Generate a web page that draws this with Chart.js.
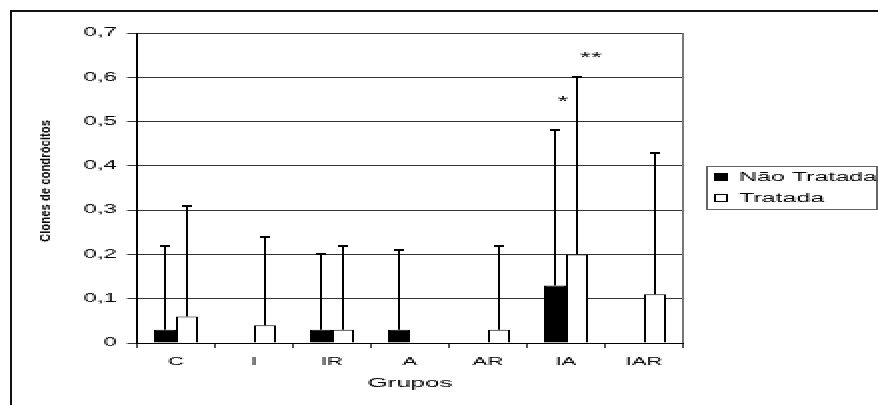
<!DOCTYPE html>
<html>
<head>
<meta charset="utf-8">
<title>Clones de condrócitos</title>
<script src="https://cdn.jsdelivr.net/npm/chart.js@4"></script>
<style>
  html, body { margin: 0; padding: 0; background: #fff; }
  /* the reference is drawn stretched sideways, so the canvas is half as wide and scaled up */
  #chart { display: block; width: 878px !important; height: 405px !important; image-rendering: pixelated; }
</style>
</head>
<body>
<canvas id="chart" width="439" height="405"></canvas>
<script>
const grupos = ['C', 'I', 'IR', 'A', 'AR', 'IA', 'IAR'];
const naoTratada = [0.03, 0, 0.03, 0.03, 0, 0.13, 0];
const tratada = [0.06, 0.04, 0.03, 0, 0.03, 0.20, 0.11];
// top of each error bar (null = none drawn)
const naoTratadaTopo = [0.22, null, 0.20, 0.21, null, 0.48, null];
const tratadaTopo = [0.31, 0.24, 0.22, null, 0.22, 0.60, 0.43];
// significance marks
const naoTratadaSig = ['', '', '', '', '', '*', ''];
const tratadaSig = ['', '', '', '', '', '**', ''];
const yTicks = [0, 0.1, 0.2, 0.3, 0.4, 0.5, 0.6, 0.7];
const yLabel = 'Clones de condrócitos';
const xLabel = 'Grupos';

Chart.defaults.font.family = "'Liberation Sans', Arial, sans-serif";
Chart.defaults.color = '#000';

const topos = [naoTratadaTopo, tratadaTopo];
const sigs = [naoTratadaSig, tratadaSig];

const extras = {
  id: 'extras',
  beforeDraw(chart) {
    const ctx = chart.ctx;
    ctx.save();
    ctx.fillStyle = '#fff';
    ctx.fillRect(0, 0, chart.width, chart.height);
    // outer frame
    ctx.fillStyle = '#111';
    ctx.fillRect(5, 10, chart.width - 5, 2);
    ctx.fillRect(5, 10, 1, chart.height - 10);
    ctx.restore();
  },
  afterDatasetsDraw(chart) {
    const ctx = chart.ctx;
    const y = chart.scales.y;
    const area = chart.chartArea;
    ctx.save();
    // right border of plot
    ctx.fillStyle = '#777';
    ctx.fillRect(Math.floor(area.right), area.top, 1, area.bottom - area.top);

    // error bars, upper half only
    ctx.fillStyle = '#000';
    topos.forEach((topo, di) => {
      const meta = chart.getDatasetMeta(di);
      meta.data.forEach((bar, i) => {
        if (topo[i] == null) return;
        const yt = Math.round(y.getPixelForValue(topo[i]));
        const x = Math.floor(bar.x);
        ctx.fillRect(x, yt, 1, bar.y - yt);
        ctx.fillRect(x - 2, yt - 1, 5, 2);
      });
    });

    // significance marks
    ctx.font = "14px 'Liberation Sans', Arial, sans-serif";
    ctx.textAlign = 'center';
    ctx.textBaseline = 'middle';
    const offs = [{dx: 4, dy: 30}, {dx: 7, dy: 21}];
    sigs.forEach((sig, di) => {
      const meta = chart.getDatasetMeta(di);
      meta.data.forEach((bar, i) => {
        if (!sig[i]) return;
        const yt = y.getPixelForValue(topos[di][i]);
        ctx.fillText(sig[i], bar.x + offs[di].dx, yt - offs[di].dy + 2);
      });
    });

    // y axis title, squeezed like the original
    ctx.save();
    ctx.translate(23, 181);
    ctx.rotate(-Math.PI / 2);
    ctx.scale(1, 0.55);
    ctx.font = "bold 12px 'Liberation Sans', Arial, sans-serif";
    ctx.fillText(yLabel, 0, 0, 122);
    ctx.restore();

    // legend with frame
    ctx.strokeStyle = '#666';
    ctx.lineWidth = 1;
    ctx.strokeRect(353.5, 166.5, 85, 43);
    ctx.font = "12.5px 'Liberation Sans', Arial, sans-serif";
    ctx.textAlign = 'left';
    chart.data.datasets.forEach((ds, di) => {
      const cy = 177 + di * 21;
      ctx.fillStyle = '#000';
      ctx.fillRect(357, cy - 4, 7, 8);
      if (ds.backgroundColor !== '#000') {
        ctx.fillStyle = ds.backgroundColor;
        ctx.fillRect(358, cy - 3, 5, 6);
      }
      ctx.fillStyle = '#000';
      ctx.fillText(ds.label, 369.5, cy + 1);
    });
    ctx.restore();
  }
};

new Chart(document.getElementById('chart'), {
  type: 'bar',
  data: {
    labels: grupos,
    datasets: [
      {
        label: 'Não Tratada',
        data: naoTratada,
        backgroundColor: '#000',
        borderColor: '#000',
        borderWidth: 1,
        categoryPercentage: 22 / 39,
        barPercentage: 1
      },
      {
        label: 'Tratada',
        data: tratada,
        backgroundColor: '#fff',
        borderColor: '#000',
        borderWidth: 1,
        categoryPercentage: 22 / 39,
        barPercentage: 1
      }
    ]
  },
  options: {
    responsive: false,
    animation: false,
    devicePixelRatio: 1,
    layout: { padding: { left: 0, top: 33, right: 97.5, bottom: 0 } },
    plugins: {
      legend: { display: false },
      tooltip: { enabled: false }
    },
    scales: {
      x: {
        afterFit: s => { s.height = 62; },
        grid: { drawOnChartArea: false, tickLength: 5, color: '#555' },
        border: { color: '#000', width: 1 },
        ticks: { font: { size: 11 }, padding: 7 },
        title: { display: true, text: xLabel, font: { size: 13 }, padding: { top: 0, bottom: 14 } }
      },
      y: {
        min: 0,
        max: 0.7,
        afterFit: s => { s.width = 68.5; },
        afterBuildTicks: s => { s.ticks = yTicks.map(v => ({ value: v })); },
        grid: { color: '#333', tickLength: 5 },
        border: { color: '#000', width: 1 },
        ticks: {
          font: { size: 12 },
          padding: 5,
          callback: v => String(Math.round(v * 10) / 10).replace('.', ',')
        }
      }
    }
  },
  plugins: [extras]
});
</script>
</body>
</html>
